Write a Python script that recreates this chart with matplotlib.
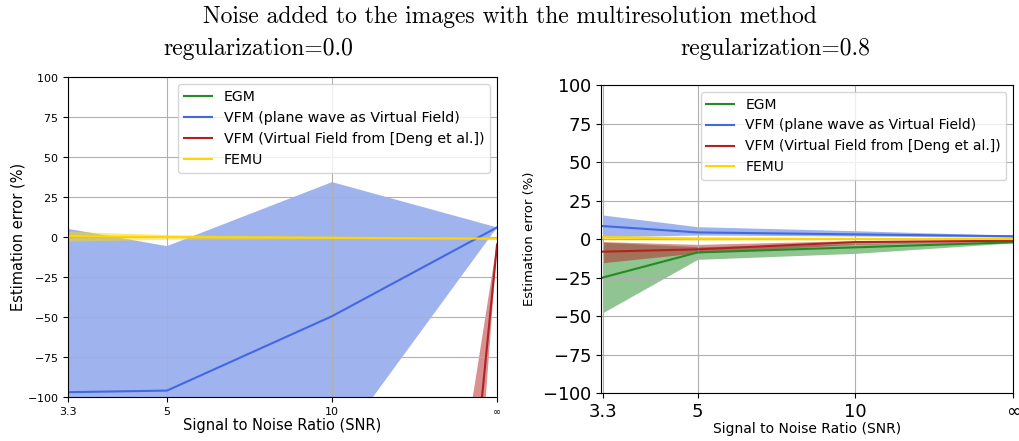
import numpy as np
import matplotlib
matplotlib.use("Agg")
import matplotlib.pyplot as plt

plt.rcParams['mathtext.fontset'] = 'cm'
plt.rcParams['axes.formatter.use_mathtext'] = True

# SNR levels and where they sit on the x axis
snr_labels = ['3.3', '5', '10', '∞']
snr_pos = [0.0, 0.6, 1.6, 2.6]

methods = ['EGM', 'VFM (plane wave as Virtual Field)',
           'VFM (Virtual Field from [Deng et al.])', 'FEMU']
colors = ['forestgreen', 'royalblue', 'firebrick', 'gold']

# regularization = 0.0 : mean, lower, upper error (%)
reg0_mean = [[-300, -280, -260, -240],
             [-97, -96, -49.5, 6],
             [-1500, -1300, -1050, -4.7],
             [0.5, 0.0, -0.5, -1.0]]
reg0_low = [[-340, -320, -300, -260],
            [-250, -230, -135, 6],
            [-1900, -1700, -1390, -6],
            [-2.6, -1.5, -1.0, -1.5]]
reg0_high = [[-260, -240, -220, -220],
             [5.1, -5.7, 34.3, 6],
             [-1100, -900, -660, -3.5],
             [3.6, 1.5, 0.5, -0.5]]

# regularization = 0.8
reg8_mean = [[-25, -8.7, -5.4, -2.1],
             [8.4, 4.3, 3.0, 1.8],
             [-8.2, -6.7, -2.0, -1.1],
             [1.1, 0.2, 0.1, 0.0]]
reg8_low = [[-47.8, -13.2, -9.3, -2.5],
            [1.5, 2.6, 2.0, 1.2],
            [-15.4, -9.0, -3.5, -1.5],
            [-0.6, -0.8, -0.5, -0.4]]
reg8_high = [[-2.0, -5.0, -3.0, -1.6],
             [15.6, 8.0, 5.4, 2.4],
             [-1.7, -3.5, -1.0, -0.7],
             [2.6, 1.5, 0.8, 0.4]]

fig = plt.figure(figsize=(10.2, 4.41), dpi=100)
ax1 = fig.add_axes([0.0667, 0.0998, 0.4206, 0.7256])
ax2 = fig.add_axes([0.5895, 0.1088, 0.4040, 0.6984])


def draw(ax, mean, low, high, tick_fs, label_fs, legend_fs, xmin):
    for i in range(4):
        ax.fill_between(snr_pos, low[i], high[i], color=colors[i], alpha=0.5,
                        linewidth=0)
        ax.plot(snr_pos, mean[i], color=colors[i], label=methods[i], lw=1.5)
    ax.set_xlim(xmin, snr_pos[-1])
    ax.set_ylim(-100, 100)
    ax.set_xticks(snr_pos)
    ax.set_xticklabels(snr_labels)
    ax.set_yticks(np.arange(-100, 101, 25))
    ax.tick_params(labelsize=tick_fs)
    ax.grid(True)
    ax.set_xlabel('Signal to Noise Ratio (SNR)', fontsize=label_fs, labelpad=1)
    ax.set_ylabel('Estimation error (%)', fontsize=label_fs)
    ax.legend(loc='upper right', fontsize=legend_fs)


draw(ax1, reg0_mean, reg0_low, reg0_high, 8, 10.5, 10.2, 0.0)
draw(ax2, reg8_mean, reg8_low, reg8_high, 13, 10, 10, -0.01)
ax1.set_ylabel('Estimation error (%)', fontsize=10.5, labelpad=1)
ax2.set_ylabel('Estimation error (%)', fontsize=9.5)
# the infinity label is drawn smaller than the numbers
ax1.get_xticklabels()[-1].set_fontsize(7)

fig.text(0.5, 0.962, 'Noise added to the images with the multiresolution method',
         ha='center', va='center', fontsize=17, family='cmr10')
fig.text(0.253, 0.89, 'regularization=0.0', ha='center', va='center',
         fontsize=17, family='cmr10')
fig.text(0.76, 0.89, 'regularization=0.8', ha='center', va='center',
         fontsize=17, family='cmr10')

fig.savefig('out.png', dpi=100)
